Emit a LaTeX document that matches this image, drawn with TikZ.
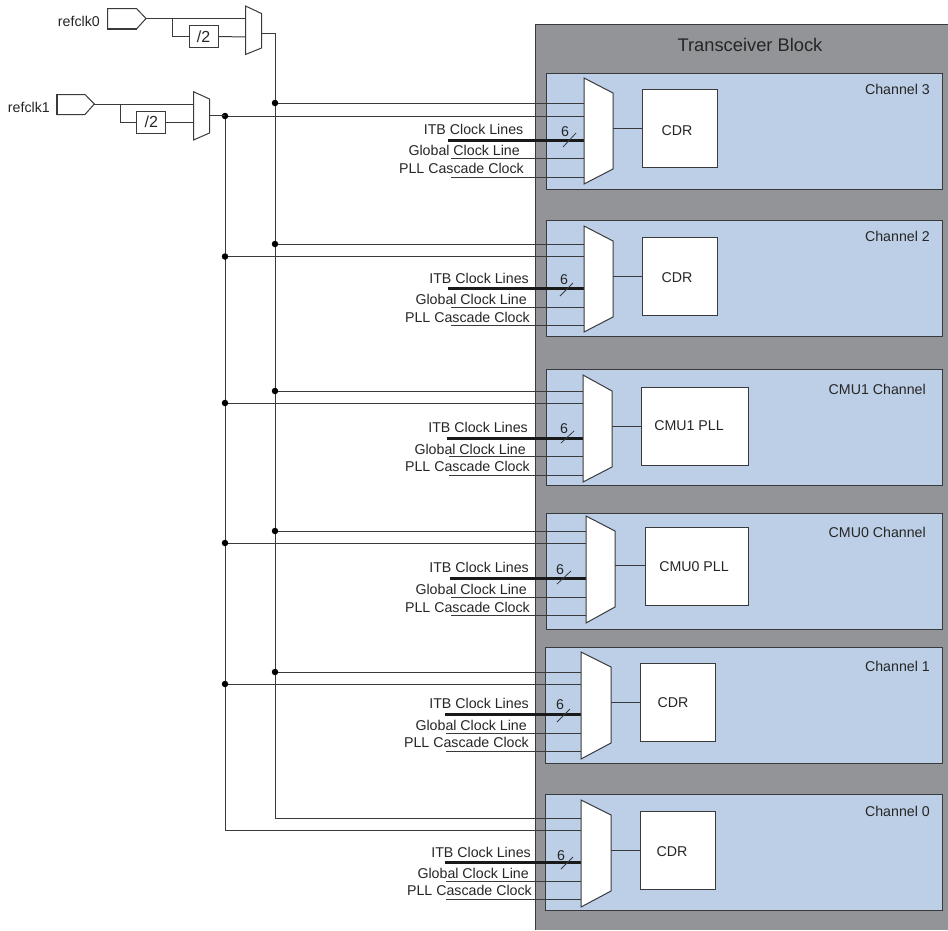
\documentclass[tikz,border=0pt]{standalone}
\usepackage{fontspec}
\setmainfont{Liberation Sans}
\definecolor{blockgray}{HTML}{929497}
\definecolor{chanblue}{HTML}{BCCFE6}
\definecolor{ink}{HTML}{3A3A3C}
\tikzset{
  wire/.style={draw=ink,line width=1pt},
  buswire/.style={draw=black!90,line width=3pt},
  chanbox/.style={draw=ink,fill=chanblue,line width=1pt},
  whitebox/.style={draw=ink,fill=white,line width=1pt},
  muxshape/.style={draw=ink,fill=white,line width=1pt,line join=miter},
  txt/.style={inner sep=0pt,text=black!85,font=\fontsize{14.2}{16}\selectfont},
  lbl/.style={txt,anchor=base east},
  ctr/.style={txt,anchor=base},
  jdot/.style={circle,fill=black,inner sep=0pt,minimum size=6.5pt},
  padshape/.style={draw=ink,fill=white,line width=1pt}
}
\begin{document}
\begin{tikzpicture}[x=1pt,y=-1pt]
\useasboundingbox (0,0) rectangle (948,930);
% transceiver block
\fill[white] (0,0) rectangle (948,930);
\path[draw=ink,fill=blockgray,line width=0.8pt] (535,930) -- (535,24.5) -- (948.5,24.5) -- (948.5,930);
\node[ctr,font=\fontsize{18.3}{20}\selectfont] (title) at (750,51) {Transceiver Block};

% input pads, dividers and top muxes
\coordinate (pad0out) at (146,18.5);
\coordinate (pad1out) at (94.3,104);
\coordinate (mux0a) at (245.5,18.5);
\coordinate (mux0b) at (245.5,37);
\coordinate (mux0o) at (261.5,33.5);
\coordinate (mux1a) at (193.5,104);
\coordinate (mux1b) at (193.5,122);
\coordinate (mux1o) at (209.5,115.7);
\coordinate (tap0) at (172,18.5);
\coordinate (tap1) at (120,104);
\coordinate (busA) at (275,33.5);
\coordinate (busB) at (225,115.7);

\node[lbl] (refclk0) at (100,26) {refclk0};
\node[lbl] (refclk1) at (50,112) {refclk1};
\draw[padshape] (107.5,8.5) -- (136.5,8.5) -- (pad0out) -- (136.5,29) -- (107.5,29) -- cycle;
\draw[draw=ink,line width=1.8pt] (136.5,8.5) -- (107.5,8.5) -- (107.5,29) -- (136.5,29);
\draw[padshape] (57,94.5) -- (85,94.5) -- (pad1out) -- (85,114.5) -- (57,114.5) -- cycle;
\draw[draw=ink,line width=1.8pt] (85,94.5) -- (57,94.5) -- (57,114.5) -- (85,114.5);

\node[whitebox,minimum width=29pt,minimum height=21.5pt,inner sep=0pt] (div0) at (203.5,36.5) {};
\node[txt,anchor=base,font=\fontsize{16}{18}\selectfont] (div0t) at (div0.center) [yshift=-5.5pt] {/2};
\node[whitebox,minimum width=29.3pt,minimum height=22pt,inner sep=0pt] (div1) at (151.3,122) {};
\node[txt,anchor=base,font=\fontsize{16}{18}\selectfont] (div1t) at (div1.center) [yshift=-5.5pt] {/2};

\draw[wire] (pad0out) -- (mux0a);
\draw[wire] (tap0) |- (div0.west);
\draw[wire] (div0.east) -- (mux0b);
\draw[wire] (pad1out) -- (mux1a);
\draw[wire] (tap1) |- (div1.west);
\draw[wire] (div1.east) -- (mux1b);

\draw[muxshape] (245.5,6) -- (261.5,13.5) -- (261.5,48) -- (245.5,54.5) -- cycle;
\draw[muxshape] (193.5,91.7) -- (209.5,99) -- (209.5,133) -- (193.5,140) -- cycle;

% channels: id/ box L,T,B / mux L,top,R,rt,rb,lb / y1..y5 / label rights & y's / wire starts / six x,y / slash / inner box L,R,T,B,out y / text x,y / name, y
\foreach \id/\bl/\bt/\bb/\ml/\mt/\mr/\mrt/\mrb/\mlb/\ya/\yb/\yc/\yd/\ye/\ra/\rb/\rc/\la/\lb/\lc/\bs/\ts/\sx/\sy/\spa/\spb/\spc/\spd/\il/\ir/\it/\ib/\iy/\tx/\ty/\iname/\cname/\cy/\cr in {
 c3/546/73/189/584/78/613/93/169/184/103/116/140.5/158.5/177/523.5/520/524/129/150/168/448/451/565/131/563/147/576/133/642/717/89/167/128/677/130/CDR/Channel 3/89/930,
 c2/546/220/336/584/226/613/241/317/332/244/256.5/288/307/325/529/527/530/278/299/317/448/451/564/279/560/296/573/283/642/717/237/315/276/677/277/CDR/Channel 2/236/930,
 m1/546/369/485/583/375/612/391/467/482/391/403/438/456/475/528/526/530/427/449/466/447/449/564/428/561/443/574/431/641/748/387/465/426/689/425/CMU1 PLL/CMU1 Channel/389/926,
 m0/546/513/629/586/516/615/531/607/623/531/543/578/597/615/529/527/530/567/589/607/450/451/560/569/557/584/571/571/645/748/527/605/565/694/566/CMU0 PLL/CMU0 Channel/532/926,
 c1/545/647/763/581/652/611/667/743/759/672/684/714/733/751/529/527/529/703/725/742/445/446/560/704/557/722/570/709/640/715/663/741/702/673/702/CDR/Channel 1/666/930,
 c0/545/794/910/581/800/611/815/891/907/818/830/862/881/899/531/529/532/852/873/890/445/446/561/855/561/869/573/857/640/715/811/889/850/672/851/CDR/Channel 0/811/930}
{
  \path[chanbox] (\bl,\bt) rectangle (942,\bb);
  \node[lbl] (name\id) at (\cr,\cy+5) {\cname};
  \coordinate (in1\id) at (\ml,\ya);
  \coordinate (in2\id) at (\ml,\yb);
  \coordinate (in3\id) at (\ml,\yc);
  \coordinate (in4\id) at (\ml,\yd);
  \coordinate (in5\id) at (\ml,\ye);
  \coordinate (s3\id) at (\bs,\yc);
  \coordinate (s4\id) at (\ts,\yd);
  \coordinate (s5\id) at (\ts,\ye);
  \coordinate (ja\id) at (busA |- in1\id);
  \coordinate (jb\id) at (busB |- in2\id);
  \coordinate (out\id) at (\mr,\iy);
  \draw[wire] (ja\id) -- (in1\id);
  \draw[wire] (jb\id) -- (in2\id);
  \draw[buswire] (s3\id) -- (in3\id);
  \draw[wire] (s4\id) -- (in4\id);
  \draw[wire] (s5\id) -- (in5\id);
  \node[lbl] (itb\id) at (\ra,\la+5) {ITB Clock Lines};
  \node[lbl] (glob\id) at (\rb,\lb+5) {Global Clock Line};
  \node[lbl] (pll\id) at (\rc,\lc+5) {PLL Cascade Clock};
  \node[ctr] (six\id) at (\sx,\sy+5) {6};
  \coordinate (sa\id) at (\spa,\spb);
  \coordinate (sb\id) at (\spc,\spd);
  \draw[draw=ink,line width=0.8pt] (sa\id) -- (sb\id);
  \draw[muxshape] (\ml,\mt) -- (\mr,\mrt) -- (\mr,\mrb) -- (\ml,\mlb) -- cycle;
  \path[whitebox] (\il,\it) rectangle (\ir,\ib);
  \coordinate (boxin\id) at (\il,\iy);
  \draw[wire] (out\id) -- (boxin\id);
  \node[ctr] (inner\id) at (\tx,\ty+5) {\iname};
}

% clock trunks
\draw[wire] (mux0o) -| (jac0) -- (in1c0);
\draw[wire] (busB) -- (jbc0) -- (in2c0);
\foreach \id in {c3,c2,m1,m0,c1}{
  \node[jdot] (dota\id) at (ja\id) {};
  \node[jdot] (dotb\id) at (jb\id) {};
}
\draw[wire] (mux1o) -- (busB);
\end{tikzpicture}
\end{document}
